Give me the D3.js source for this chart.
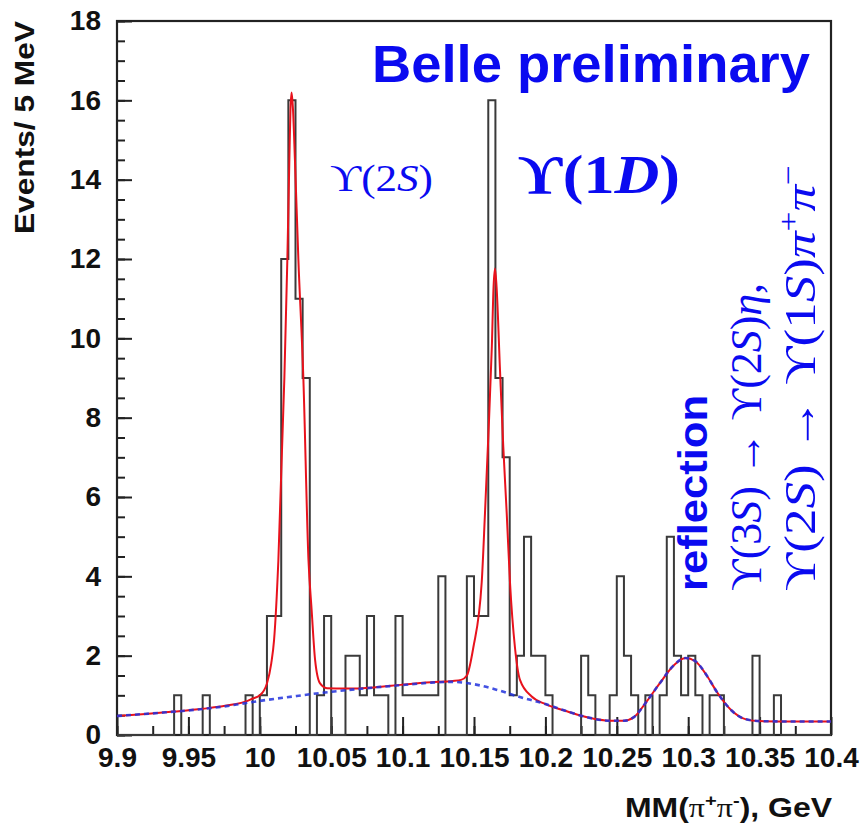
<!DOCTYPE html>
<html>
<head>
<meta charset="utf-8">
<script src="https://cdn.jsdelivr.net/npm/d3@7"></script>
<style>
  body { margin: 0; background: #fff; }
  svg { display: block; }
  .tick text { font-family: "Liberation Sans", Arial, sans-serif; font-weight: bold; font-size: 28px; fill: #111; }
  .tick line { stroke: #222; stroke-width: 2; }
</style>
</head>
<body>
<svg id="chart"></svg>
<script>
(function () {
    const width = 865;
    const height = 826;

    // histogram: 100 bins of 5 MeV from 9.9 GeV
    const binStart = 9.9;
    const binWidth = 0.005;
    const counts = [
        0, 0, 0, 0, 0, 0, 0, 0, 1, 0,
        0, 0, 1, 0, 0, 0, 0, 0, 1, 0,
        1, 3, 3, 12, 16, 11, 9, 0, 1, 3,
        0, 0, 2, 2, 1, 3, 1, 1, 0, 3,
        1, 1, 1, 1, 1, 4, 0, 0, 0, 4,
        3, 3, 16, 9, 7, 1, 2, 5, 2, 2,
        1, 0, 0, 0, 0, 2, 1, 0, 0, 1,
        4, 2, 1, 0, 1, 0, 1, 5, 2, 1,
        2, 1, 0, 1, 1, 0, 0, 0, 0, 2,
        0, 0, 1, 0, 0, 0, 0, 0, 0, 0
    ];

    // background fit (blue dashed)
    const bgX = [9.90, 9.93, 9.95, 9.975, 10.00, 10.025, 10.05, 10.075, 10.10, 10.12,
                 10.135, 10.15, 10.165, 10.18, 10.20, 10.215, 10.23, 10.245, 10.255, 10.262,
                 10.27, 10.28, 10.29, 10.298, 10.305, 10.313, 10.32, 10.33, 10.34, 10.35,
                 10.375, 10.40];
    const bgY = [0.48, 0.56, 0.62, 0.72, 0.86, 0.98, 1.09, 1.18, 1.26, 1.32,
                 1.34, 1.28, 1.15, 0.98, 0.78, 0.60, 0.44, 0.36, 0.36, 0.45,
                 0.80, 1.30, 1.76, 1.94, 1.86, 1.50, 1.09, 0.63, 0.40, 0.35,
                 0.34, 0.34];

    // total fit (red), up to 10.2 GeV; beyond that it follows the background
    const fitX = [9.90, 9.92, 9.94, 9.96, 9.98, 9.99, 9.995, 10.0, 10.005, 10.008,
                  10.01, 10.013, 10.0172, 10.0193, 10.0207, 10.0215, 10.0223, 10.0232, 10.0246, 10.027,
                  10.0305, 10.0341, 10.0363, 10.0387, 10.0422, 10.047, 10.06, 10.08, 10.10, 10.12,
                  10.135, 10.141, 10.145, 10.1495, 10.1554, 10.1577, 10.16, 10.1625, 10.1637, 10.1647,
                  10.1658, 10.1682, 10.1705, 10.1729, 10.1752, 10.1787, 10.1822, 10.1904, 10.20];
    const fitY = [0.48, 0.53, 0.59, 0.66, 0.76, 0.84, 0.92, 1.0, 1.3, 1.8,
                  2.4, 4.4, 9.0, 12.0, 14.5, 15.8, 16.2, 15.8, 14.5, 12.0,
                  9.0, 4.4, 3.15, 1.9, 1.3, 1.18, 1.17, 1.2, 1.27, 1.33,
                  1.36, 1.39, 1.5, 2.2, 3.85, 5.6, 7.5, 9.8, 11.3, 11.76,
                  11.3, 9.2, 7.27, 5.6, 3.85, 2.2, 1.39, 0.97, 0.78];

    const xMajor = [9.9, 9.95, 10.0, 10.05, 10.1, 10.15, 10.2, 10.25, 10.3, 10.35, 10.4];
    const xLabels = ["9.9", "9.95", "10", "10.05", "10.1", "10.15", "10.2", "10.25", "10.3", "10.35", "10.4"];
    const yMajor = [0, 2, 4, 6, 8, 10, 12, 14, 16, 18];

    const svg = d3.select("#chart")
        .attr("width", width)
        .attr("height", height);

    const x = d3.scaleLinear().domain([9.9, 10.4]).range([117, 831]);
    const y = d3.scaleLinear().domain([0, 18]).range([735, 21]);

    // minor ticks
    const xMinor = d3.range(0, 21).map(i => 9.9 + i * 0.025).filter(v => v < 10.399);
    const yMinor = d3.range(0, 37).map(i => i * 0.5);

    svg.append("g")
        .attr("transform", `translate(0,${y(0)})`)
        .call(d3.axisBottom(x).tickValues(xMinor).tickSizeInner(-9).tickSizeOuter(0).tickFormat(""))
        .call(g => g.select(".domain").remove());

    svg.append("g")
        .attr("transform", `translate(0,${y(0)})`)
        .call(d3.axisBottom(x).tickValues(xMajor).tickSizeInner(-18).tickSizeOuter(0)
            .tickPadding(12).tickFormat((d, i) => xLabels[i]))
        .call(g => g.select(".domain").remove());

    svg.append("g")
        .attr("transform", `translate(${x(9.9)},0)`)
        .call(d3.axisLeft(y).tickValues(yMinor).tickSizeInner(-8).tickSizeOuter(0).tickFormat(""))
        .call(g => g.select(".domain").remove());

    svg.append("g")
        .attr("transform", `translate(${x(9.9)},0)`)
        .call(d3.axisLeft(y).tickValues(yMajor).tickSizeInner(-15).tickSizeOuter(0).tickPadding(16))
        .call(g => g.select(".domain").remove());

    // frame
    svg.append("rect")
        .attr("x", x(9.9))
        .attr("y", y(18))
        .attr("width", x(10.4) - x(9.9))
        .attr("height", y(0) - y(18))
        .attr("fill", "none")
        .attr("stroke", "#222")
        .attr("stroke-width", 2.2);

    // histogram outline (ROOT style steps)
    const histPts = [[binStart, 0]]
        .concat(counts.map((c, i) => [binStart + i * binWidth, c]))
        .concat([[binStart + counts.length * binWidth, 0]]);

    svg.append("path")
        .datum(histPts)
        .attr("fill", "none")
        .attr("stroke", "#3a3a3a")
        .attr("stroke-width", 2)
        .attr("d", d3.line()
            .x(d => x(d[0]))
            .y(d => y(d[1]))
            .curve(d3.curveStepAfter));

    const line = d3.line()
        .x(d => x(d[0]))
        .y(d => y(d[1]))
        .curve(d3.curveMonotoneX);

    const fitPts = fitX.map((v, i) => [v, fitY[i]])
        .concat(bgX.map((v, i) => [v, bgY[i]]).filter(d => d[0] > 10.2));
    const bgPts = bgX.map((v, i) => [v, bgY[i]]);

    svg.append("path")
        .datum(fitPts)
        .attr("fill", "none")
        .attr("stroke", "#e8121c")
        .attr("stroke-width", 2)
        .attr("d", line);

    svg.append("path")
        .datum(bgPts)
        .attr("fill", "none")
        .attr("stroke", "#2233dd")
        .attr("stroke-width", 2.6)
        .attr("stroke-dasharray", "5,4")
        .attr("stroke-opacity", 0.85)
        .attr("d", line);

    // axis titles
    svg.append("text")
        .attr("transform", `translate(34,${y(18)}) rotate(-90)`)
        .attr("text-anchor", "end")
        .attr("font-family", "'Liberation Sans', Arial, sans-serif")
        .attr("font-weight", "bold")
        .attr("font-size", 28)
        .attr("textLength", 213)
        .attr("lengthAdjust", "spacingAndGlyphs")
        .attr("fill", "#111")
        .text("Events/ 5 MeV");

    const xt = svg.append("text")
        .attr("x", 625)
        .attr("y", 817)
        .attr("font-family", "'Liberation Sans', Arial, sans-serif")
        .attr("font-weight", "bold")
        .attr("font-size", 27)
        .attr("textLength", 207)
        .attr("lengthAdjust", "spacingAndGlyphs")
        .attr("fill", "#111");
    xt.append("tspan").text("MM(");
    xt.append("tspan").attr("font-family", "'Liberation Serif', serif").attr("font-weight", "normal").text("π");
    xt.append("tspan").attr("dy", -11).attr("font-size", 17).text("+");
    xt.append("tspan").attr("dy", 11).attr("font-family", "'Liberation Serif', serif").attr("font-weight", "normal").text("π");
    xt.append("tspan").attr("dy", -11).attr("font-size", 17).text("-");
    xt.append("tspan").attr("dy", 11).text("), GeV");

    // annotations
    const blue = "#0a0af0";
    const serif = "'Liberation Serif', 'DejaVu Serif', serif";

    svg.append("text")
        .attr("x", 372)
        .attr("y", 82)
        .attr("font-family", "'Liberation Sans', Arial, sans-serif")
        .attr("font-weight", "bold")
        .attr("font-size", 51)
        .attr("textLength", 438)
        .attr("lengthAdjust", "spacingAndGlyphs")
        .attr("fill", blue)
        .text("Belle preliminary");

    const t2s = svg.append("text")
        .attr("x", 330)
        .attr("y", 191)
        .attr("font-family", serif)
        .attr("font-size", 38)
        .attr("textLength", 103)
        .attr("lengthAdjust", "spacingAndGlyphs")
        .attr("fill", blue);
    t2s.append("tspan").text("ϒ(2");
    t2s.append("tspan").attr("font-style", "italic").text("S");
    t2s.append("tspan").text(")");

    const t1d = svg.append("text")
        .attr("x", 518)
        .attr("y", 193)
        .attr("font-family", serif)
        .attr("font-weight", "bold")
        .attr("font-size", 55)
        .attr("textLength", 162)
        .attr("lengthAdjust", "spacingAndGlyphs")
        .attr("fill", blue);
    t1d.append("tspan").text("ϒ(1");
    t1d.append("tspan").attr("font-style", "italic").text("D");
    t1d.append("tspan").text(")");

    svg.append("text")
        .attr("transform", "translate(707,591) rotate(-90)")
        .attr("font-family", "'Liberation Sans', Arial, sans-serif")
        .attr("font-weight", "bold")
        .attr("font-size", 41)
        .attr("textLength", 196)
        .attr("lengthAdjust", "spacingAndGlyphs")
        .attr("fill", blue)
        .text("reflection");

    const r1 = svg.append("text")
        .attr("transform", "translate(761,591) rotate(-90)")
        .attr("font-family", serif)
        .attr("font-size", 45)
        .attr("textLength", 308)
        .attr("lengthAdjust", "spacingAndGlyphs")
        .attr("fill", blue);
    r1.append("tspan").text("ϒ(3");
    r1.append("tspan").attr("font-style", "italic").text("S");
    r1.append("tspan").text(") → ϒ(2");
    r1.append("tspan").attr("font-style", "italic").text("S");
    r1.append("tspan").text(")");
    r1.append("tspan").attr("font-style", "italic").text("η");
    r1.append("tspan").text(",");

    const r2 = svg.append("text")
        .attr("transform", "translate(815,591) rotate(-90)")
        .attr("font-family", serif)
        .attr("font-size", 45)
        .attr("textLength", 426)
        .attr("lengthAdjust", "spacingAndGlyphs")
        .attr("fill", blue);
    r2.append("tspan").text("ϒ(2");
    r2.append("tspan").attr("font-style", "italic").text("S");
    r2.append("tspan").text(") → ϒ(1");
    r2.append("tspan").attr("font-style", "italic").text("S");
    r2.append("tspan").text(")");
    r2.append("tspan").attr("font-style", "italic").text("π");
    r2.append("tspan").attr("dy", -17).attr("font-size", 30).text("+");
    r2.append("tspan").attr("dy", 17).attr("font-style", "italic").text("π");
    r2.append("tspan").attr("dy", -17).attr("font-size", 30).text("−");
})();
</script>
</body>
</html>
